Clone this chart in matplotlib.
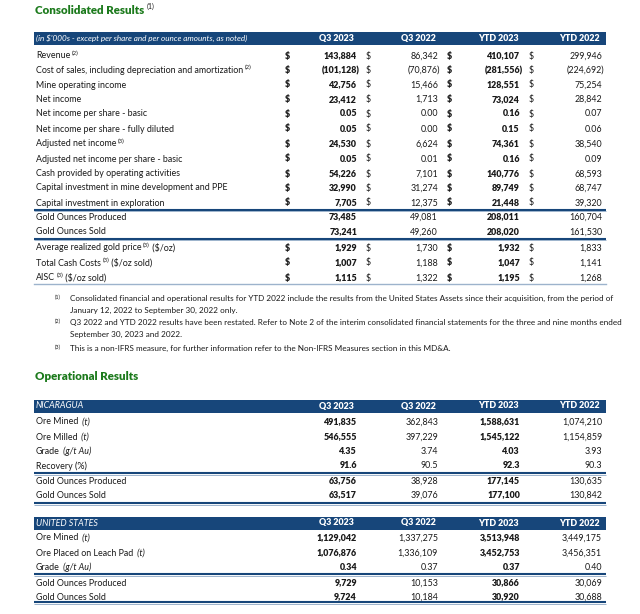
import matplotlib.pyplot as plt

plt.rcParams["font.family"] = ["Lato", "DejaVu Sans"]

# Consolidated results table
cons_labels = [
    "Revenue", "Cost of sales, including depreciation and amortization",
    "Mine operating income", "Net income", "Net income per share - basic",
    "Net income per share - fully diluted", "Adjusted net income",
    "Adjusted net income per share - basic", "Cash provided by operating activities",
    "Capital investment in mine development and PPE", "Capital investment in exploration",
    "Gold Ounces Produced", "Gold Ounces Sold", "Average realized gold price",
    "Total Cash Costs", "AISC",
]
cons_notes = ["(2)", "(2)", "", "", "", "", "(3)", "", "", "", "", "", "", "(3)", "(3)", "(3)"]
cons_suffix = ["", "", "", "", "", "", "", "", "", "", "", "", "", " ($/oz)", " ($/oz sold)", " ($/oz sold)"]
cons_dollar = [True] * 11 + [False, False] + [True] * 3
cons_q3_2023 = ["143,884", "(101,128)", "42,756", "23,412", "0.05", "0.05", "24,530", "0.05",
                "54,226", "32,990", "7,705", "73,485", "73,241", "1,929", "1,007", "1,115"]
cons_q3_2022 = ["86,342", "(70,876)", "15,466", "1,713", "0.00", "0.00", "6,624", "0.01",
                "7,101", "31,274", "12,375", "49,081", "49,260", "1,730", "1,188", "1,322"]
cons_ytd_2023 = ["410,107", "(281,556)", "128,551", "73,024", "0.16", "0.15", "74,361", "0.16",
                 "140,776", "89,749", "21,448", "208,011", "208,020", "1,932", "1,047", "1,195"]
cons_ytd_2022 = ["299,946", "(224,692)", "75,254", "28,842", "0.07", "0.06", "38,540", "0.09",
                 "68,593", "68,747", "39,320", "160,704", "161,530", "1,833", "1,141", "1,268"]

# Operational results - Nicaragua
nic_labels = ["Ore Mined", "Ore Milled", "Grade", "Recovery (%)", "Gold Ounces Produced", "Gold Ounces Sold"]
nic_units = [" (t)", " (t)", " (g/t Au)", "", "", ""]
nic_q3_2023 = ["491,835", "546,555", "4.35", "91.6", "63,756", "63,517"]
nic_q3_2022 = ["362,843", "397,229", "3.74", "90.5", "38,928", "39,076"]
nic_ytd_2023 = ["1,588,631", "1,545,122", "4.03", "92.3", "177,145", "177,100"]
nic_ytd_2022 = ["1,074,210", "1,154,859", "3.93", "90.3", "130,635", "130,842"]

# Operational results - United States
us_labels = ["Ore Mined", "Ore Placed on Leach Pad", "Grade", "Gold Ounces Produced", "Gold Ounces Sold"]
us_units = [" (t)", " (t)", " (g/t Au)", "", ""]
us_q3_2023 = ["1,129,042", "1,076,876", "0.34", "9,729", "9,724"]
us_q3_2022 = ["1,337,275", "1,336,109", "0.37", "10,153", "10,184"]
us_ytd_2023 = ["3,513,948", "3,452,753", "0.37", "30,866", "30,920"]
us_ytd_2022 = ["3,449,175", "3,456,351", "0.40", "30,069", "30,688"]

col_heads = ["Q3 2023", "Q3 2022", "YTD 2023", "YTD 2022"]

footnotes = [
    ("(1)", ["Consolidated financial and operational results for YTD 2022 include the results from the United States Assets since their acquisition, from the period of",
             "January 12, 2022 to September 30, 2022 only."]),
    ("(2)", ["Q3 2022 and YTD 2022 results have been restated. Refer to Note 2 of the interim consolidated financial statements for the three and nine months ended",
             "September 30, 2023 and 2022."]),
    ("(3)", ["This is a non-IFRS measure, for further information refer to the Non-IFRS Measures section in this MD&A."]),
]

BLUE = "#17467a"
LIGHT = "#9db3cc"
GREEN = "#1c7a1c"
INK = "#1a1a1a"
FS = 6.4

fig = plt.figure(figsize=(6.4, 6.14), dpi=100)
ax = fig.add_axes([0, 0, 1, 1])
ax.set_xlim(0, 640)
ax.set_ylim(614, 0)
ax.axis("off")
renderer = fig.canvas.get_renderer()

X0, X1 = 34, 606
head_x = [336, 418, 498, 579]
val_x = [357, 438, 520, 602]
dol_x = [287, 368, 449, 531]


def right_edge(t):
    return t.get_window_extent(renderer=renderer).x1


def draw_label(y, base, note="", suffix="", italic_suffix=False):
    t = ax.text(36, y, base, fontsize=FS, color=INK, va="center")
    x = right_edge(t) + 1.5
    if note:
        n = ax.text(x, y - 3, note, fontsize=4.3, color=INK, va="center")
        x = right_edge(n)
    if suffix:
        ax.text(x, y, suffix, fontsize=FS, color=INK, va="center",
                style="italic" if italic_suffix else "normal")


def draw_header(y_top, title_text):
    ax.fill_between([X0, X1], y_top, y_top + 13, color=BLUE, lw=0)
    ax.text(36, y_top + 6.5, title_text, fontsize=5.9 if len(title_text) > 20 else FS,
            style="italic", color="white", va="center")
    for hx, h in zip(head_x, col_heads):
        ax.text(hx, y_top + 6.5, h, fontsize=FS, fontweight="heavy", color="white",
                ha="center", va="center")


def draw_values(y, vals):
    for i, v in enumerate(vals):
        xr = val_x[i] + (2.5 if v.startswith("(") else 0)
        ax.text(xr, y, v, fontsize=FS, color=INK, ha="right", va="center",
                fontweight="heavy" if i % 2 == 0 else "normal")


def double_rule(y):
    ax.plot([X0, X1], [y, y], color=BLUE, lw=1.5, solid_capstyle="butt")
    ax.plot([X0, X1], [y + 1.8, y + 1.8], color=LIGHT, lw=0.7, solid_capstyle="butt")


# Consolidated Results
t = ax.text(35, 10, "Consolidated Results", fontsize=8.3, fontweight="heavy", color=GREEN, va="center")
ax.text(right_edge(t) + 2, 6, "(1)", fontsize=5, color=INK, va="center")
draw_header(32, "(in $'000s - except per share and per ounce amounts, as noted)")

cons_y = [56, 70.5, 85, 99.5, 114, 129, 144, 159, 174, 188, 203,
          217, 232, 248, 263, 278]
for i, y in enumerate(cons_y):
    draw_label(y, cons_labels[i], cons_notes[i], cons_suffix[i])
    draw_values(y, [cons_q3_2023[i], cons_q3_2022[i], cons_ytd_2023[i], cons_ytd_2022[i]])
    if cons_dollar[i]:
        for j, dx in enumerate(dol_x):
            ax.text(dx, y, "$", fontsize=FS, color=INK, ha="center", va="center",
                    fontweight="heavy" if j % 2 == 0 else "normal")
double_rule(209.5)
double_rule(238.5)
ax.plot([X0, X1], [284, 284], color=LIGHT, lw=1.0)

# Footnotes
fy = [298, 322, 348]
for (mark, lines), y in zip(footnotes, fy):
    ax.text(55, y - 1, mark, fontsize=4, color=INK, va="center")
    for k, line in enumerate(lines):
        ax.text(70, y + k * 12.5, line, fontsize=5.85, color=INK, va="center")

# Operational Results
ax.text(35, 377, "Operational Results", fontsize=8.3, fontweight="heavy", color=GREEN, va="center")

draw_header(399.5, "NICARAGUA")
nic_y = [422, 437, 451, 466, 481, 495]
for i, y in enumerate(nic_y):
    draw_label(y, nic_labels[i], suffix=nic_units[i], italic_suffix=True)
    draw_values(y, [nic_q3_2023[i], nic_q3_2022[i], nic_ytd_2023[i], nic_ytd_2022[i]])
double_rule(473)
double_rule(503)

draw_header(516.5, "UNITED STATES")
us_y = [538, 553, 567, 583, 597]
for i, y in enumerate(us_y):
    draw_label(y, us_labels[i], suffix=us_units[i], italic_suffix=True)
    draw_values(y, [us_q3_2023[i], us_q3_2022[i], us_ytd_2023[i], us_ytd_2022[i]])
double_rule(574)
double_rule(602)

fig.savefig("out.png", dpi=100)
